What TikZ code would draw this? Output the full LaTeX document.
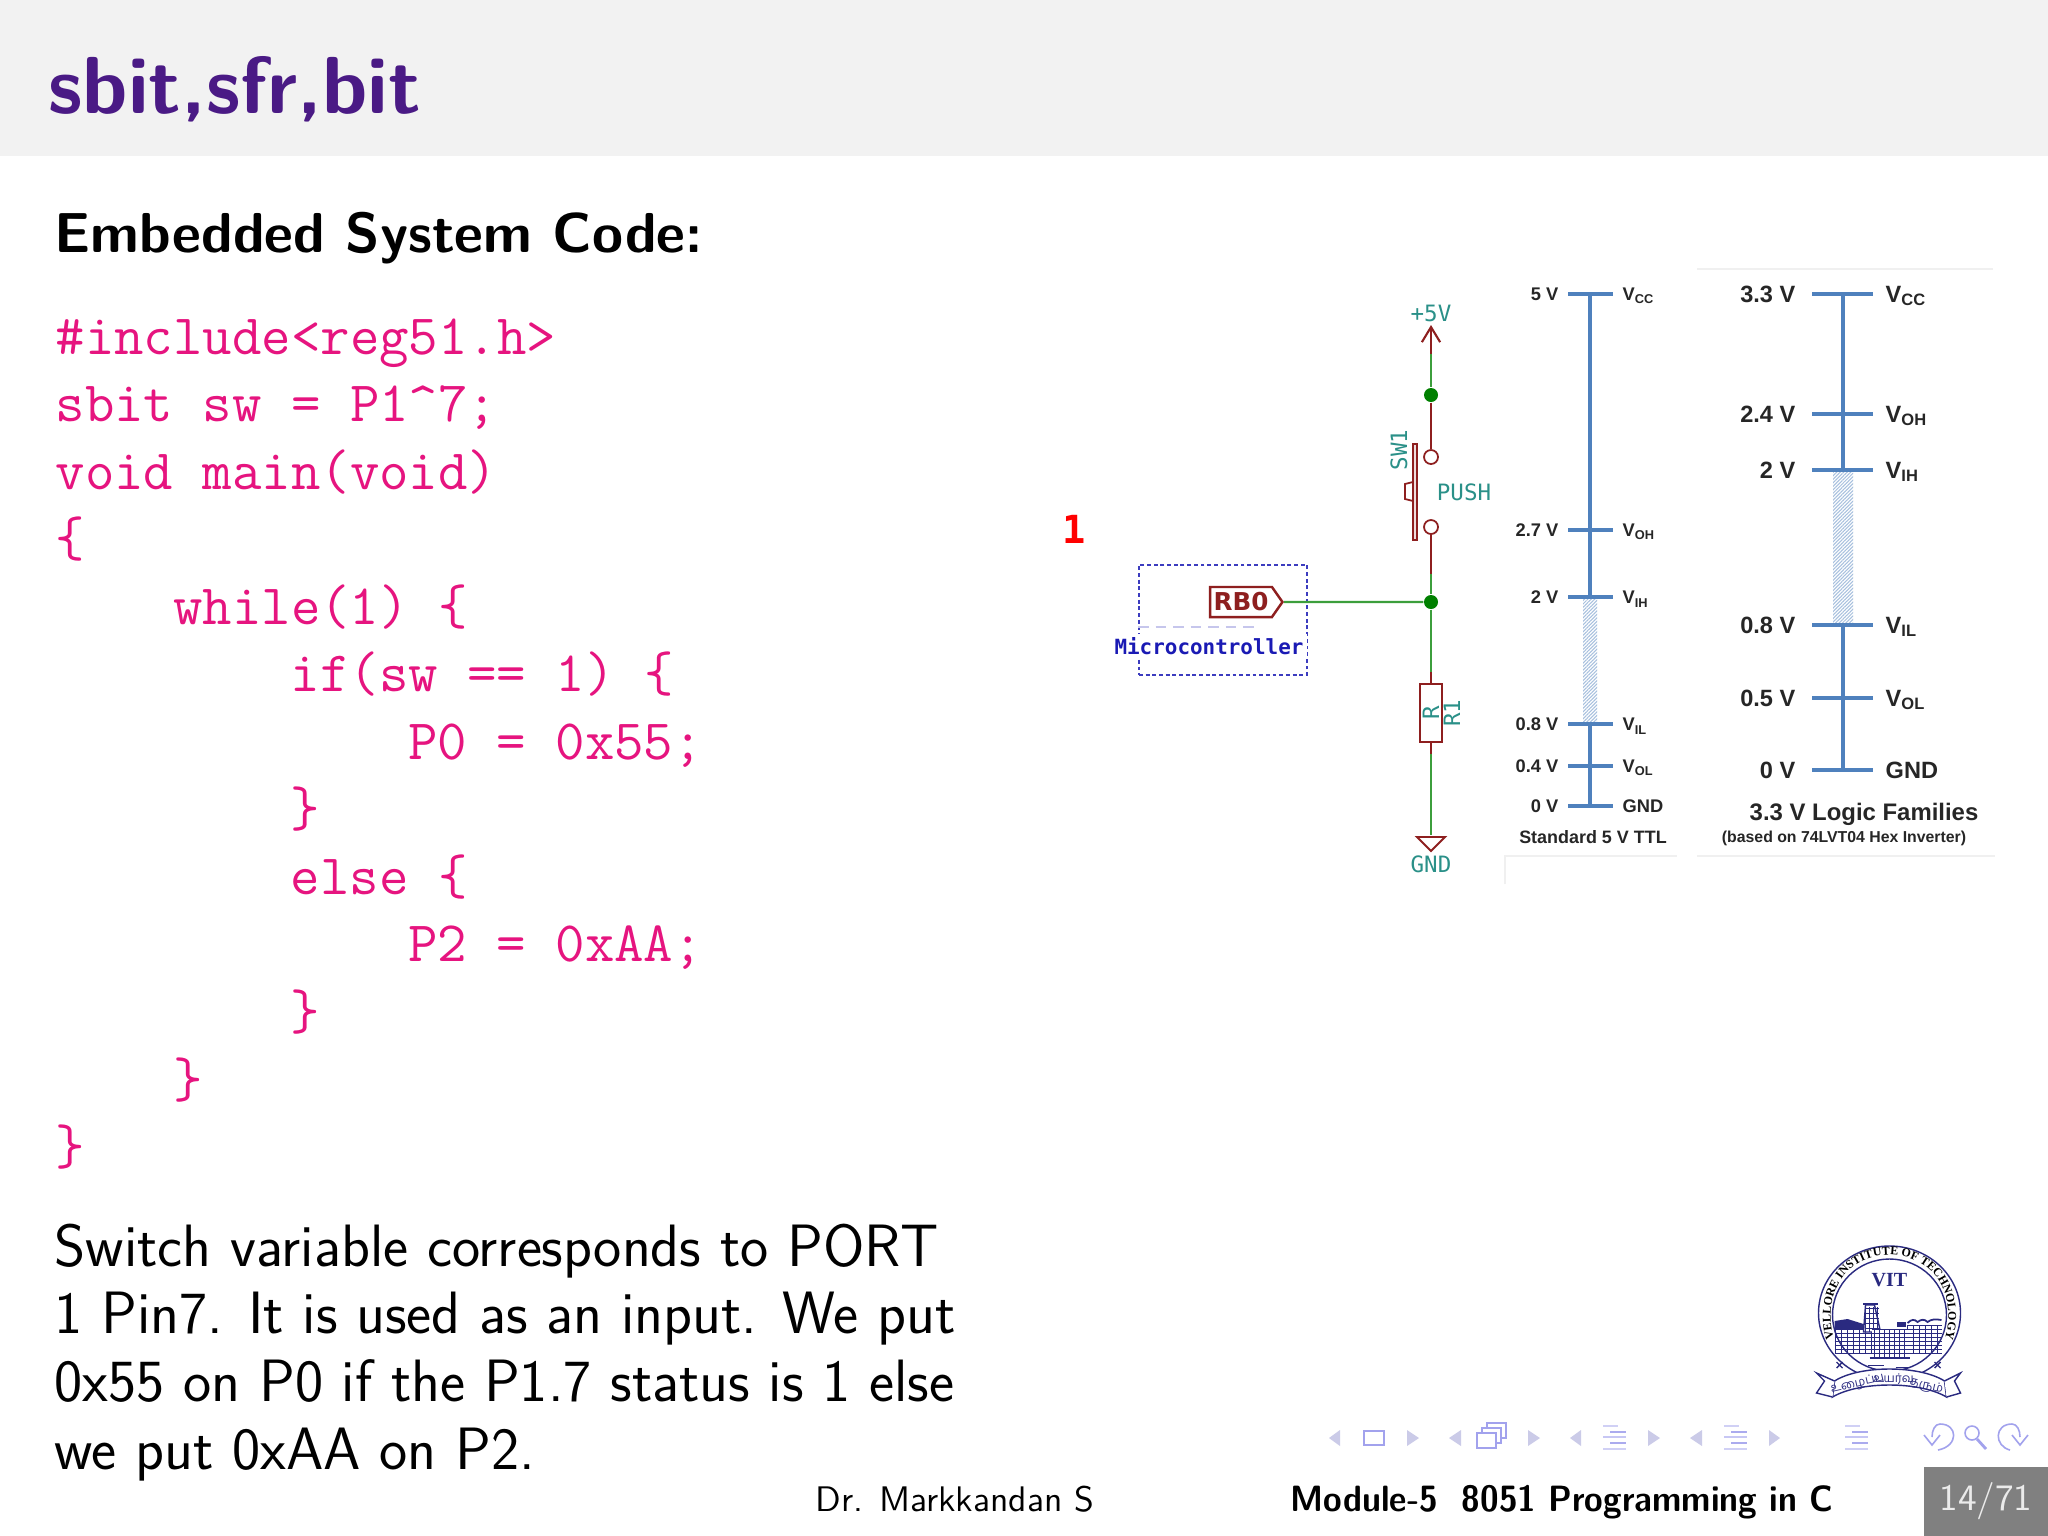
\documentclass[tikz,border=0pt]{standalone}
\usepackage{fontspec}
\usetikzlibrary{arrows.meta,decorations.text,patterns.meta,shapes.symbols}
\newfontfamily\logicfont{Liberation Sans}
\newfontfamily\logoserif{Liberation Serif}
\newfontfamily\schemfont{DejaVu Sans Mono}
\newfontfamily\schemsans{DejaVu Sans}
\newfontfamily\tamilfont[Script=Tamil]{Hind Madurai}
\definecolor{headGray}{HTML}{F2F2F2}
\definecolor{titlePurple}{HTML}{4A1A85}
\definecolor{codePink}{HTML}{E6147F}
\definecolor{pageGray}{HTML}{808080}
\definecolor{wireGreen}{HTML}{3C9E3C}
\definecolor{wireRed}{HTML}{8E1F1F}
\definecolor{labelTeal}{HTML}{2A9088}
\definecolor{mcuBlue}{HTML}{1A1AB4}
\definecolor{logicBlue}{HTML}{4F81BD}
\definecolor{navLav}{HTML}{CBCBE8}
\definecolor{logoBlue}{HTML}{2A2A80}
\newcommand{\navlines}[1]{%
  \foreach \a/\b/\c/\y in {0/15/.5/1426,7/23/.9/1432,0/23/.6/1437,7/23/.9/1443,0/23/.5/1449}
  {\draw[navBar,opacity=\c] (#1+\a,\y) -- (#1+\b,\y);}}
\begin{document}
\begin{tikzpicture}
[x=0.01cm,y=-0.01cm,%
  textDecorate/.style={anchor=base west,inner sep=0pt,font=\sffamily\fontsize{17}{20}\selectfont},%
  codeDecorate/.style={anchor=base west,inner sep=0pt,text=codePink,font=\ttfamily\fontsize{16.25}{19}\selectfont},%
  wireDecorate/.style={-,line width=0.6pt},%
  partDecorate/.style={draw=wireRed,line width=0.7pt},%
  dotDecorate/.style={shape=circle,fill=green!50!black,inner sep=0pt,minimum size=0.14cm},%
  contactDecorate/.style={shape=circle,draw=wireRed,line width=0.5pt,fill=white,inner sep=0pt,minimum size=0.14cm},%
  tealDecorate/.style={inner sep=0pt,text=labelTeal,font=\schemfont\fontsize{6.4}{7}\selectfont},%
  levelDecorate/.style={inner sep=0pt,anchor=east,text=black!85,font=\logicfont\bfseries\fontsize{#1}{#1}\selectfont},%
  nameDecorate/.style={inner sep=0pt,anchor=west,text=black!85,font=\logicfont\bfseries\fontsize{#1}{#1}\selectfont},%
  faintDecorate/.style={draw=black!6,line width=0.4pt},%
  navBar/.style={draw=navLav!80!blue,line width=0.55pt},%
  navShape/.style={fill=navLav,draw=none},%
  navLine/.style={draw=navLav!80!blue,line width=0.45pt,fill=none}]
\useasboundingbox (0,0) rectangle (2048,1536);
\fill[white] (0,0) rectangle (2048,1536);
%% header and footer
\fill[headGray] (0,0) rectangle (2048,156);
\fill[pageGray] (1924,1467) rectangle (2048,1536);
\node[anchor=base west,inner sep=0pt,text=titlePurple,font=\sffamily\bfseries\fontsize{23}{26}\selectfont] (title) at (48,113) {sbit,sfr,bit};
\node[textDecorate,font=\sffamily\bfseries\fontsize{16}{19}\selectfont] (heading) at (54,252) {Embedded System Code:};
%% code lines
\foreach \idx/\ind/\codeline in {
  0/0/{\#include<reg51.h>}, 1/0/{sbit sw = P1\^{}7;}, 2/0/{void main(void)},
  3/0/{\{}, 4/1/{while(1) \{}, 5/2/{if(sw == 1) \{}, 6/3/{P0 = 0x55;},
  7/2/{\}}, 8/2/{else \{}, 9/3/{P2 = 0xAA;}, 10/2/{\}}, 11/1/{\}}, 12/0/{\}}}
{
  \node[codeDecorate] (code\idx) at (55+117.6*\ind,354+67.55*\idx) {\codeline};
}
%% text under the code
\foreach \idx/\textline in {
  0/{Switch variable corresponds to PORT}, 1/{1 Pin7. It is used as an input. We put},
  2/{0x55 on P0 if the P1.7 status is 1 else}, 3/{we put 0xAA on P2.}}
{
  \node[textDecorate] (para\idx) at (54,1266+67.9*\idx) {\textline};
}
\node[textDecorate,font=\sffamily\fontsize{10.1}{13}\selectfont] (author) at (815,1511) {Dr. Markkandan S};
\node[textDecorate,font=\sffamily\bfseries\fontsize{10.4}{13}\selectfont] (module) at (1290,1511) {\scalebox{0.924}[1]{Module-5\hspace{0.7em}8051 Programming in C}};
\node[inner sep=0pt,text=white!92!black,font=\sffamily\fontsize{10.6}{13}\selectfont] (page) at (1986,1501) {14/71};
%% schematic
\node[inner sep=0pt,text=red,font=\schemfont\bfseries\fontsize{11}{12}\selectfont] (one) at (1074,529) {1};
\node[draw=mcuBlue!85!white,dash pattern=on 1.1pt off 0.8pt,line width=0.55pt,minimum width=1.68cm,minimum height=1.10cm,inner sep=0pt] (mcu) at (1223,620) {};
\draw[draw=mcuBlue!25,densely dashed,line width=0.4pt] (mcu.west|-0,627) -- (1256,627);
\node[fill=white,inner sep=1pt,text=mcuBlue,font=\schemfont\bfseries\fontsize{5.95}{7}\selectfont] (mcutext) at (1209,646) {Microcontroller};
\node[shape=signal,signal to=east,signal pointer angle=110,partDecorate,fill=white,inner sep=1pt,minimum width=0.69cm,minimum height=0.3cm,text=wireRed,font=\schemsans\bfseries\fontsize{7}{8}\selectfont] (tag) at (1241,602) {RB0};
\foreach \nodename/\x/\y in {
  vtip/1431/325, vred/1431/354, rtop/1431/672, rbot/1431/754, gndtop/1431/835,
  swoff/1431/574}
{
  \coordinate (\nodename) at (\x,\y);
}
\node[dotDecorate] (jtop) at (1431,395) {};
\node[dotDecorate] (jmid) at (1431,602) {};
\node[contactDecorate] (swa) at (1431,457) {};
\node[contactDecorate] (swb) at (1431,527) {};
\node[partDecorate,fill=white,minimum width=0.58cm,minimum height=0.22cm,inner sep=0pt,rotate=90,text=labelTeal,font=\schemfont\fontsize{6.4}{7}\selectfont] (rone) at (1431,713) {R};
\path
\foreach \startnode/\endnode/\wirecolor in {
  vred/jtop/wireGreen, jtop/swa/wireRed, swb/swoff/wireRed, swoff/jmid/wireGreen,
  tag/jmid/wireGreen, jmid/rtop/wireGreen, rtop/rone/wireRed, rone/rbot/wireRed,
  rbot/gndtop/wireGreen}
{
  (\startnode) edge[wireDecorate,color=\wirecolor] (\endnode)
};
\draw[wireDecorate,color=wireRed,-{Straight Barb[length=4.3pt,width=5.2pt]}] (vred) -- (vtip);
\draw[partDecorate,line width=0.55pt] (gndtop)+(-14,2) -- +(14,2) -- +(0,16) -- cycle;
\draw[partDecorate,line width=0.5pt,fill=wireRed!15] (1413,444) rectangle (1417,540);
\draw[partDecorate,line width=0.5pt] (1413,482) -- (1405,484) -- (1405,499) -- (1413,501);
\node[tealDecorate] (plusfive) at (1431,313) {+5V};
\node[tealDecorate] (gndtext) at (1431,864) {GND};
\node[tealDecorate] (pushtext) at (1464,492) {PUSH};
\node[tealDecorate,rotate=90] (swtext) at (1399,450) {SW1};
\node[tealDecorate,rotate=90] (rtext) at (1452,713) {R1};
%% 5 V scale
\draw[faintDecorate] (1505,884) -- (1505,856) -- (1677,856);
\fill[pattern={Lines[angle=45,distance=0.7pt,line width=0.3pt]},pattern color=logicBlue!50] (1583,597) rectangle (1597,724);
\foreach \nodename/\y/\level/\signal in {
  fvcc/294/{5 V}/{V\textsubscript{CC}}, fvoh/530/{2.7 V}/{V\textsubscript{OH}},
  fvih/597/{2 V}/{V\textsubscript{IH}}, fvil/724/{0.8 V}/{V\textsubscript{IL}},
  fvol/766/{0.4 V}/{V\textsubscript{OL}}, fgnd/806/{0 V}/{\raisebox{1.2pt}{GND}}}
{
  \coordinate (\nodename) at (1590,\y);
  \coordinate (\nodename a) at (1568,\y);
  \coordinate (\nodename b) at (1613,\y);
  \node[levelDecorate=5.2] (\nodename level) at (1559,\y) {\level};
  \node[nameDecorate=5.2] (\nodename name) at (1622,\y+2) {\signal};
  \draw[logicBlue,line width=1pt] (\nodename a) -- (\nodename b);
}
\draw[logicBlue,line width=1.1pt] (fvcc) -- (fvih);
\draw[logicBlue,line width=1.1pt] (fvil) -- (fgnd);
\node[inner sep=0pt,text=black!85,font=\logicfont\bfseries\fontsize{5.1}{6}\selectfont] (fname) at (1593,837) {Standard 5 V TTL};
%% 3.3 V scale
\draw[faintDecorate] (1697,269) -- (1993,269);
\draw[faintDecorate] (1697,856) -- (1995,856);
\fill[pattern={Lines[angle=45,distance=0.7pt,line width=0.3pt]},pattern color=logicBlue!50] (1833,470) rectangle (1853,625);
\foreach \nodename/\y/\level/\signal in {
  tvcc/294/{3.3 V}/{V\textsubscript{CC}}, tvoh/414/{2.4 V}/{V\textsubscript{OH}},
  tvih/470/{2 V}/{V\textsubscript{IH}}, tvil/625/{0.8 V}/{V\textsubscript{IL}},
  tvol/698/{0.5 V}/{V\textsubscript{OL}}, tgnd/770/{0 V}/{\raisebox{1.2pt}{GND}}}
{
  \coordinate (\nodename) at (1843,\y);
  \coordinate (\nodename a) at (1812,\y);
  \coordinate (\nodename b) at (1873,\y);
  \node[levelDecorate=6.7] (\nodename level) at (1796,\y) {\level};
  \node[nameDecorate=6.7] (\nodename name) at (1885,\y+2) {\signal};
  \draw[logicBlue,line width=1.4pt] (\nodename a) -- (\nodename b);
}
\draw[logicBlue,line width=1.4pt] (tvcc) -- (tvih);
\draw[logicBlue,line width=1.4pt] (tvil) -- (tgnd);
\node[inner sep=0pt,text=black!85,font=\logicfont\bfseries\fontsize{6.8}{7}\selectfont] (tname) at (1864,814) {3.3 V Logic Families};
\node[inner sep=0pt,text=black!85,font=\logicfont\bfseries\fontsize{4.5}{5}\selectfont] (tnote) at (1844,838) {(based on 74LVT04 Hex Inverter)};
%% navigation symbols
\foreach \x/\d in {1340/-11,1407/12,1461/-12,1528/12,1581/-11,1648/12,1702/-12,1769/11}
{
  \fill[navShape] (\x,1430) -- (\x+\d,1438) -- (\x,1446) -- cycle;
}
\draw[navBar,fill=none] (1364,1431) rectangle (1384,1445);
\foreach \dx in {10,5,0}
{
  \draw[navBar,fill=white] (1477+\dx,1433-\dx) rectangle (1496+\dx,1448-\dx);
}
\navlines{1603}
\navlines{1724}
\navlines{1845}
\draw[navLine] (1938,1450) .. controls (1959,1446) and (1958,1424) .. (1940,1424) .. controls (1935,1424) and (1932,1430) .. (1932,1437);
\draw[navLine] (1924,1435) -- (1932,1445) -- (1940,1435);
\draw[navLine] (2010,1450) .. controls (1994,1446) and (1994,1424) .. (2012,1424) .. controls (2017,1424) and (2020,1430) .. (2020,1437);
\draw[navLine] (2012,1435) -- (2020,1445) -- (2028,1435);
\draw[navLine] (1972,1433) circle (7);
\draw[navLine,line width=0.8pt] (1977,1439) -- (1986,1449);
%% logo
\begin{scope}[shift={(1889.5,1313)},y=0.01cm,logoBlue]
  \draw[line width=0.4pt] (0,0) ellipse (71 and 67);
  \draw[line width=0.4pt] (0,-2) ellipse (57 and 56);
  \path[decorate,decoration={text along path,text align=center,
    text={|\logoserif\bfseries\fontsize{3.4}{4}\selectfont|VELLORE INSTITUTE OF TECHNOLOGY}}]
    (-47,-44) .. controls (-72,-5) and (-58,57) .. (0,58) .. controls (58,57) and (72,-5) .. (47,-44);
  \node[font=\logoserif\bfseries\fontsize{5.7}{6}\selectfont,inner sep=0pt] (vit) at (0,33) {VIT};
  %% temple and walls
  \fill (-55,-8) -- (-42,-6) -- (-26,-11) -- (-20,-16) -- (-55,-16) -- cycle;
  \draw[line width=0.15pt,xstep=6,ystep=4] (-55,-40) grid (-18,-16);
  \draw[line width=0.15pt,xstep=6,ystep=4] (18,-40) grid (52,-12);
  \draw[line width=0.4pt,fill=white] (-26,-19) -- (-24,8) -- (-15,8) -- (-9,-19) -- cycle;
  \draw[line width=0.15pt,xstep=4,ystep=5] (-24,-19) grid (-11,6);
  \fill (-27,8) rectangle (-12,10);
  \fill[fill=white] (-18,-17) rectangle (18,-43);
  \draw[line width=0.25pt,xstep=5,ystep=4] (-18,-44) grid (18,-16);
  \draw[line width=0.6pt] (-20,-45) -- (20,-45);
  \draw[line width=0.5pt] (18,-10) .. controls (22,-6) and (25,-6) .. (28,-9) .. controls (32,-6) and (35,-6) .. (38,-9) .. controls (42,-6) and (46,-6) .. (52,-7);
  \fill (7,-14) rectangle (16,-9);
  \foreach \x in {-50,48}
  {
    \draw[line width=0.4pt] (\x-3,-55) -- (\x+3,-49) (\x-3,-49) -- (\x+3,-55);
  }
  \draw[line width=0.25pt] (-22,-52) -- (-6,-52) (6,-54) -- (18,-54) (-10,-58) -- (8,-58);
  %% ribbon
  \draw[line width=0.4pt,fill=white] (-55,-68) .. controls (-30,-52) and (30,-52) .. (55,-68)
    -- (57,-84) .. controls (30,-68) and (-30,-68) .. (-57,-84) -- cycle;
  \draw[line width=0.4pt,fill=white] (-55,-68) -- (-73,-60) -- (-65,-68) -- (-73,-80) -- (-57,-84);
  \draw[line width=0.4pt,fill=white] (55,-68) -- (71,-60) -- (65,-68) -- (71,-80) -- (57,-84);
  \node[inner sep=0pt,rotate=13,font=\tamilfont\fontsize{3.4}{4}\selectfont] (tamilone) at (-32,-71) {உழைப்பு};
  \node[inner sep=0pt,font=\tamilfont\fontsize{3.4}{4}\selectfont] (tamiltwo) at (4,-66) {உயர்வு};
  \node[inner sep=0pt,rotate=-13,font=\tamilfont\fontsize{3.4}{4}\selectfont] (tamilthree) at (37,-73) {தரும்};
\end{scope}
\end{tikzpicture}
\end{document}
